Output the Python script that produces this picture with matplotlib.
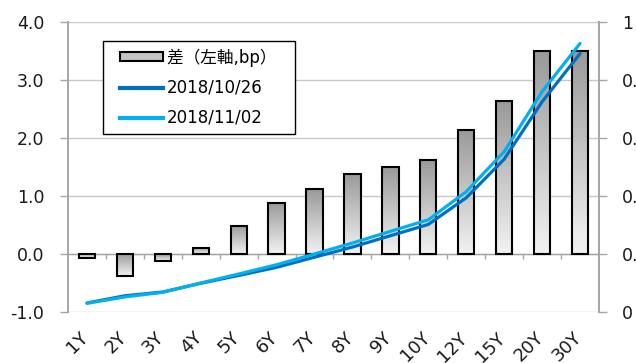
import numpy as np
import matplotlib
matplotlib.use("Agg")
import matplotlib.pyplot as plt
from matplotlib.patches import Patch
from matplotlib.lines import Line2D
from matplotlib.ticker import FuncFormatter
from matplotlib.transforms import ScaledTranslation
from matplotlib.legend_handler import HandlerLine2D, HandlerPatch

plt.rcParams['font.family'] = ['DejaVu Sans', 'Noto Sans CJK JP']

# 年限
tenors = ["1Y", "2Y", "3Y", "4Y", "5Y", "6Y", "7Y", "8Y", "9Y", "10Y", "12Y", "15Y", "20Y", "30Y"]
# 差（左軸, bp）
diff_bp = [-0.07, -0.38, -0.12, 0.11, 0.49, 0.88, 1.12, 1.38, 1.50, 1.62, 2.14, 2.63, 3.50, 3.50]
# 利回り（右軸, %）
yld_1026 = [0.031, 0.056, 0.069, 0.099, 0.126, 0.154, 0.189, 0.224, 0.263, 0.302, 0.394, 0.527, 0.725, 0.891]
yld_1102 = [0.030, 0.052, 0.068, 0.100, 0.131, 0.163, 0.200, 0.238, 0.278, 0.318, 0.415, 0.553, 0.760, 0.926]

left_ticks = [-1.0, 0.0, 1.0, 2.0, 3.0, 4.0]
right_ticks = [0, 0.2, 0.4, 0.6, 0.8, 1.0]

c_dark = "#0070C0"
c_light = "#00B0F0"
axis_gray = "#a6a6a6"
grid_gray = "#c8c8c8"

fig = plt.figure(figsize=(6.36, 3.63), dpi=100)
ax = fig.add_axes([68 / 636, 51 / 363, 531 / 636, 290 / 363])
x = np.arange(len(tenors))

# 棒（グラデーション塗り：上が濃く下が薄い）
bars = ax.bar(x, diff_bp, width=0.43, facecolor="none", edgecolor="black", linewidth=1.5, zorder=3)
grad = np.linspace(0.95, 0.6, 256).reshape(-1, 1)
for b in bars:
    x0, y0 = b.get_x(), b.get_y()
    w, h = b.get_width(), b.get_height()
    lo, hi = min(y0, y0 + h), max(y0, y0 + h)
    im = ax.imshow(grad, extent=[x0, x0 + w, lo, hi], origin="lower", aspect="auto",
                   cmap="gray", vmin=0, vmax=1, zorder=2, interpolation="bilinear")
    im.set_clip_path(b)

ax.set_xlim(-0.5, len(tenors) - 0.5)
ax.set_ylim(-1.0, 4.0)
ax.set_yticks(left_ticks)
ax.yaxis.set_major_formatter(FuncFormatter(lambda v, p: f"{v:.1f}"))
ax.grid(axis="y", color=grid_gray, linewidth=1.0, zorder=0)
ax.set_axisbelow(True)
ax.axhline(0, color=axis_gray, linewidth=1.0, zorder=1)
ax.vlines(x[:-1] + 0.5, -0.09, 0, color=axis_gray, linewidth=1.0, zorder=1)

ax.set_xticks(x)
ax.set_xticklabels(tenors, rotation=45, ha="right", va="top", fontsize=13, color="#1a1a1a")
ax.tick_params(axis="x", length=0, pad=12)
shift = ScaledTranslation(5 / 100, 0, fig.dpi_scale_trans)
for lbl in ax.get_xticklabels():
    lbl.set_transform(lbl.get_transform() + shift)
ax.tick_params(axis="y", length=6, width=1, color=axis_gray, pad=11, labelsize=12.5, labelcolor="#1a1a1a")
for s in ["top", "bottom"]:
    ax.spines[s].set_visible(False)
for s in ["left", "right"]:
    ax.spines[s].set_color(axis_gray)
    ax.spines[s].set_linewidth(1.4)

# 右軸（利回り）
ax2 = ax.twinx()
ax2.plot(x, yld_1026, color=c_dark, linewidth=2.3, solid_capstyle="round", zorder=4)
ax2.plot(x, yld_1102, color=c_light, linewidth=2.3, solid_capstyle="round", zorder=5)
ax2.set_ylim(0, 1.0)
ax2.set_yticks(right_ticks)
ax2.yaxis.set_major_formatter(FuncFormatter(lambda v, p: f"{v:g}"))
ax2.tick_params(axis="y", length=6, width=1, color=axis_gray, pad=10.5, labelsize=12.5, labelcolor="#1a1a1a")
for s in ["top", "bottom", "left"]:
    ax2.spines[s].set_visible(False)
ax2.spines["right"].set_color(axis_gray)
ax2.spines["right"].set_linewidth(1.4)

handles = [
    Patch(facecolor="#c4c4c4", edgecolor="black", linewidth=1.5),
    Line2D([], [], color=c_dark, linewidth=3),
    Line2D([], [], color=c_light, linewidth=3),
]
labels = ["差（左軸,bp）  ", "2018/10/26", "2018/11/02"]
hmap = {Patch: HandlerPatch(xpad=0.58), Line2D: HandlerLine2D(xpad=0.58)}
leg = ax2.legend(handles, labels, loc="upper left", bbox_to_anchor=(35 / 531, 271 / 290),
                 handler_map=hmap, fontsize=12, frameon=True, fancybox=False, edgecolor="black",
                 framealpha=1, borderaxespad=0, handlelength=3.15, handleheight=0.45,
                 handletextpad=0.25, labelspacing=0.72, borderpad=0.45)
leg.get_frame().set_linewidth(1.0)

fig.savefig("out.png", dpi=100)
